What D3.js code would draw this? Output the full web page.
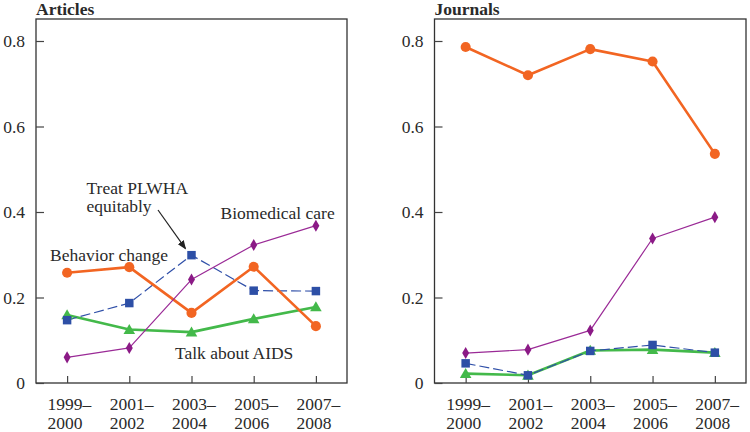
<!DOCTYPE html>
<html><head><meta charset="utf-8">
<script src="https://cdn.jsdelivr.net/npm/d3@7"></script>
<style>
body{margin:0;background:#fff;}
svg text{font-family:"Liberation Serif","Times New Roman",serif;fill:#2a2a2a;}
</style></head>
<body><svg id="c" width="750" height="432"></svg>
<script>
const periods = [["1999–","2000"],["2001–","2002"],["2003–","2004"],["2005–","2006"],["2007–","2008"]];
const periodKeys = ["1999","2001","2003","2005","2007"];
const yTicks = [0,0.2,0.4,0.6,0.8];
const panelTitles = ["Articles","Journals"];

// Articles
const artBehavior   = [0.258,0.271,0.164,0.272,0.133];
const artTreat      = [0.147,0.187,0.299,0.216,0.215];
const artBiomedical = [0.060,0.082,0.242,0.323,0.368];
const artTalk       = [0.159,0.125,0.119,0.150,0.178];
// Journals
const jouBehavior   = [0.786,0.720,0.781,0.752,0.536];
const jouTreat      = [0.046,0.018,0.075,0.089,0.071];
const jouBiomedical = [0.070,0.078,0.123,0.338,0.388];
const jouTalk       = [0.022,0.018,0.076,0.078,0.071];

const seriesStyle = {
  behavior:   {color:"#f26522", width:2.6, dash:null, marker:"circle"},
  treat:      {color:"#2f4fa8", width:1.2, dash:"10,4", marker:"square"},
  biomedical: {color:"#9a2a96", width:1.2, dash:null, marker:"diamond"},
  talk:       {color:"#43b94a", width:2.6, dash:null, marker:"triangle"}
};
const markerColor = {behavior:"#f26522", treat:"#2d4fa6", biomedical:"#8b1a86", talk:"#43b94a"};

const panels = [
  {title:panelTitles[0], x0:36, x1:347, data:{talk:artTalk, treat:artTreat, behavior:artBehavior, biomedical:artBiomedical}},
  {title:panelTitles[1], x0:434.5, x1:746, data:{talk:jouTalk, biomedical:jouBiomedical, behavior:jouBehavior, treat:jouTreat}}
];

const svg = d3.select("#c");
const yTop = 19, yBot = 383;
const y = d3.scaleLinear().domain([0,0.8]).range([yBot, 41]);

svg.append("defs").append("marker").attr("id","arrow")
  .attr("viewBox","0 0 10 10").attr("refX",9).attr("refY",5)
  .attr("markerWidth",9).attr("markerHeight",9).attr("orient","auto")
  .attr("markerUnits","userSpaceOnUse")
  .append("path").attr("d","M0,1 L10,5 L0,9 Z").attr("fill","#222");

const symbolFor = {
  circle: d3.symbol().type(d3.symbolCircle).size(80),
  square: d3.symbol().type(d3.symbolSquare).size(72),
  diamond: d3.symbol().type(d3.symbolDiamond).size(42),
  triangle: d3.symbol().type(d3.symbolTriangle).size(58)
};

panels.forEach((p, pi) => {
  const g = svg.append("g");
  const x = d3.scalePoint().domain(periodKeys).range([p.x0, p.x1]).padding(0.5);

  g.append("rect").attr("x",p.x0).attr("y",yTop).attr("width",p.x1-p.x0).attr("height",yBot-yTop)
    .attr("fill","none").attr("stroke","#333").attr("stroke-width",1.3);

  const ya = g.append("g").attr("transform",`translate(${p.x0},0)`)
    .call(d3.axisRight(y).tickValues(yTicks).tickSize(8).tickFormat(d => d===0 ? "0" : d3.format(".1f")(d)));
  ya.select(".domain").remove();
  ya.selectAll(".tick line").attr("stroke","#444").attr("stroke-width",1.2);
  ya.selectAll(".tick text").attr("x",-11).attr("text-anchor","end").attr("dy","0.34em")
    .style("font-size","17.5px").attr("fill","#2a2a2a");

  const xa = g.append("g").attr("transform",`translate(0,${yBot})`)
    .call(d3.axisTop(x).tickSize(7).tickFormat(""));
  xa.select(".domain").remove();
  xa.selectAll(".tick line").attr("stroke","#444").attr("stroke-width",1.2);
  periodKeys.forEach((k,i) => {
    g.append("text").attr("x", x(k)-19.5).attr("y",410).style("font-size","17.5px").text(periods[i][0]);
    g.append("text").attr("x", x(k)-19.5).attr("y",428.5).style("font-size","17.5px").text(periods[i][1]);
  });

  g.append("text").attr("x",p.x0).attr("y",15).text(p.title)
    .style("font-size","17.5px").style("font-weight","bold").attr("fill","#222");

  Object.keys(p.data).forEach(key => {
    const vals = p.data[key];
    const st = seriesStyle[key];
    const line = d3.line().x((d,i)=>x(periodKeys[i])).y(d=>y(d));
    g.append("path").datum(vals).attr("d",line).attr("fill","none")
      .attr("stroke",st.color).attr("stroke-width",st.width)
      .attr("stroke-dasharray",st.dash).attr("stroke-linejoin","round");
  });
  Object.keys(p.data).forEach(key => {
    const vals = p.data[key];
    const st = seriesStyle[key];
    g.selectAll(null).data(vals).enter().append("path")
      .attr("d",symbolFor[st.marker])
      .attr("transform",(d,i)=>`translate(${x(periodKeys[i])},${y(d) + (st.marker==="triangle"?1:0)})`)
      .attr("fill",markerColor[key]);
  });

  if (pi === 0) {
    g.append("text").attr("x",86.5).attr("y",193.5).style("font-size","17.5px").text("Treat PLWHA");
    g.append("text").attr("x",86.5).attr("y",212).style("font-size","17.5px").text("equitably");
    g.append("line").attr("x1",158).attr("y1",210).attr("x2",x("2003")-6).attr("y2",y(artTreat[2])-6.5)
      .attr("stroke","#222").attr("stroke-width",1.2).attr("marker-end","url(#arrow)");
    g.append("text").attr("x",50).attr("y",261).style("font-size","17.5px").text("Behavior change");
    g.append("text").attr("x",220.5).attr("y",218.5).style("font-size","17.5px").text("Biomedical care");
    g.append("text").attr("x",175).attr("y",358.5).style("font-size","17.5px").text("Talk about AIDS");
  }
});
</script></body></html>
